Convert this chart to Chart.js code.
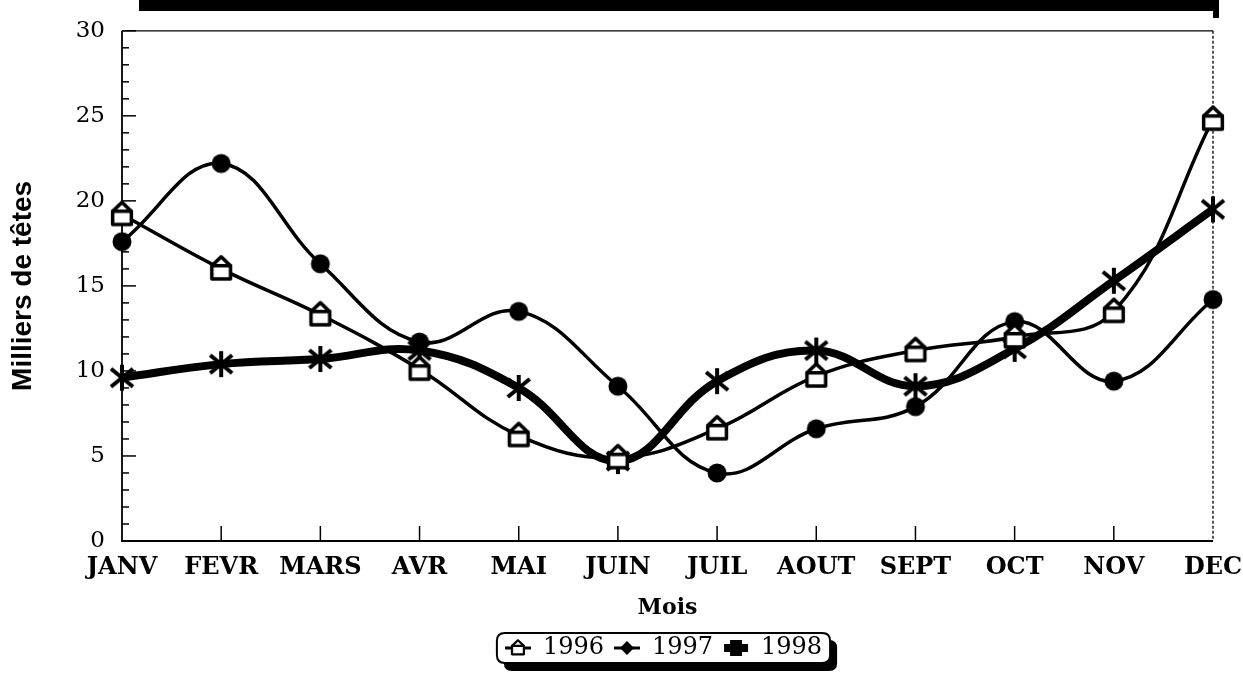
<!DOCTYPE html>
<html>
<head>
<meta charset="utf-8">
<script src="https://cdn.jsdelivr.net/npm/chart.js@4.4.0/dist/chart.umd.min.js"></script>
<style>
  html, body { margin: 0; padding: 0; background: #fff; }
  #wrap { position: relative; width: 1243px; height: 678px; }
  #bar { position: absolute; left: 139px; top: 0; width: 1077px; height: 11px; background: #000; }
  #barEnd { position: absolute; left: 1213px; top: 0; width: 6px; height: 18px; background: #000; }
  canvas { position: absolute; left: 0; top: 0; }
</style>
</head>
<body>
<div id="wrap">
  <canvas id="c" width="1243" height="678"></canvas>
  <div id="bar"></div>
  <div id="barEnd"></div>
</div>
<script>
const months = ['JANV','FEVR','MARS','AVR','MAI','JUIN','JUIL','AOUT','SEPT','OCT','NOV','DEC'];
const seriesNames = ['1996','1997','1998'];
const values1996 = [19.2, 16.0, 13.3, 10.1, 6.2, 4.9, 6.6, 9.7, 11.2, 12.0, 13.5, 24.8];
const values1997 = [17.6, 22.2, 16.3, 11.7, 13.5, 9.1, 4.0, 6.6, 7.9, 12.9, 9.4, 14.2];
const values1998 = [9.6, 10.4, 10.7, 11.2, 9.0, 4.7, 9.4, 11.2, 9.1, 11.3, 15.3, 19.5];
const yTicks = [0, 5, 10, 15, 20, 25, 30];
const yTitle = 'Milliers de têtes';
const xTitle = 'Mois';

function mk(w, h, draw) {
  const c = document.createElement('canvas');
  c.width = w; c.height = h;
  const g = c.getContext('2d');
  g.translate(w / 2, h / 2);
  g.strokeStyle = '#000'; g.fillStyle = '#000';
  g.lineJoin = 'round'; g.lineCap = 'round';
  draw(g);
  return c;
}
function house(g, s) {
  g.beginPath();
  g.moveTo(0, -11 * s); g.lineTo(8.5 * s, -3 * s); g.lineTo(8.5 * s, 9 * s);
  g.lineTo(-8.5 * s, 9 * s); g.lineTo(-8.5 * s, -3 * s); g.closePath();
  g.fillStyle = '#fff'; g.fill();
  g.lineWidth = 3.2 * s; g.stroke();
  g.beginPath(); g.moveTo(-8.5 * s, -3 * s); g.lineTo(8.5 * s, -3 * s); g.stroke();
}
const mk1996 = mk(26, 30, g => house(g, 1.1));
const mk1997 = mk(24, 24, g => { g.beginPath(); g.arc(0, 0, 9.5, 0, Math.PI * 2); g.fill(); });
const mk1998 = mk(30, 30, g => {
  g.lineWidth = 4; g.lineCap = 'butt';
  g.beginPath();
  g.moveTo(0, -13); g.lineTo(0, 13);
  g.moveTo(-11, -9); g.lineTo(11, 9);
  g.moveTo(-11, 9); g.lineTo(11, -9);
  g.stroke();
});
const lg1996 = mk(26, 20, g => {
  g.lineWidth = 3; g.beginPath(); g.moveTo(-13, 0); g.lineTo(13, 0); g.stroke();
  house(g, 0.7);
});
const lg1997 = mk(26, 20, g => {
  g.lineWidth = 3; g.beginPath(); g.moveTo(-13, 0); g.lineTo(13, 0); g.stroke();
  g.beginPath(); g.moveTo(0, -7); g.lineTo(7, 0); g.lineTo(0, 7); g.lineTo(-7, 0); g.closePath(); g.fill();
});
const lg1998 = mk(26, 20, g => {
  g.fillRect(-12, -4, 24, 8);
  g.fillRect(-6, -8, 12, 16);
});
const legendImgs = [lg1996, lg1997, lg1998];

const framePlugin = {
  id: 'frame',
  afterLayout(chart) {
    const lg = chart.legend;
    if (lg) { lg.left += 57; lg.right += 57; }
  },
  beforeDatasetsDraw(chart) {
    const { ctx, chartArea: a, scales } = chart;
    const y = scales.y, x = scales.x;
    ctx.save();
    ctx.strokeStyle = '#000';
    ctx.lineWidth = 1.3;
    ctx.beginPath(); ctx.moveTo(a.left, a.top); ctx.lineTo(a.right, a.top); ctx.stroke();
    ctx.setLineDash([3, 2]);
    ctx.beginPath(); ctx.moveTo(a.right, a.top); ctx.lineTo(a.right, a.bottom); ctx.stroke();
    ctx.setLineDash([]);
    ctx.lineWidth = 1.8;
    ctx.beginPath(); ctx.moveTo(a.left, a.top); ctx.lineTo(a.left, a.bottom); ctx.lineTo(a.right, a.bottom); ctx.stroke();
    ctx.lineWidth = 1.5;
    for (let v = y.min; v <= y.max; v += 1) {
      const py = y.getPixelForValue(v);
      const len = (v % 5 === 0) ? 14 : 7;
      ctx.beginPath(); ctx.moveTo(a.left, py); ctx.lineTo(a.left + len, py); ctx.stroke();
    }
    for (let i = 1; i < months.length - 1; i++) {
      const px = x.getPixelForValue(i);
      ctx.beginPath(); ctx.moveTo(px, a.bottom); ctx.lineTo(px, a.bottom - 15); ctx.stroke();
    }
    ctx.restore();
  }
};

const shadowPlugin = {
  id: 'legendShadow',
  afterDraw(chart) {
    const lg = chart.legend;
    if (!lg || !lg.legendHitBoxes || !lg.legendHitBoxes.length) return;
    const hb = lg.legendHitBoxes;
    const l = hb[0].left - 8, r = hb[hb.length - 1].left + hb[hb.length - 1].width + 8;
    const t = hb[0].top - 3, b = hb[0].top + hb[0].height + 3;
    const ctx = chart.ctx;
    ctx.save();
    function rr(x0, y0, x1, y1, rad) {
      ctx.beginPath();
      ctx.moveTo(x0 + rad, y0); ctx.lineTo(x1 - rad, y0); ctx.quadraticCurveTo(x1, y0, x1, y0 + rad);
      ctx.lineTo(x1, y1 - rad); ctx.quadraticCurveTo(x1, y1, x1 - rad, y1);
      ctx.lineTo(x0 + rad, y1); ctx.quadraticCurveTo(x0, y1, x0, y1 - rad);
      ctx.lineTo(x0, y0 + rad); ctx.quadraticCurveTo(x0, y0, x0 + rad, y0); ctx.closePath();
    }
    ctx.globalCompositeOperation = 'destination-over';
    ctx.fillStyle = '#fff';
    rr(l, t, r, b, 8); ctx.fill();
    ctx.fillStyle = '#000';
    rr(l + 7, t + 7, r + 7, b + 8, 8); ctx.fill();
    ctx.globalCompositeOperation = 'source-over';
    ctx.strokeStyle = '#000'; ctx.lineWidth = 2;
    rr(l, t, r, b, 8); ctx.stroke();
    ctx.restore();
  }
};

const common = { fill: false, tension: 0.4, borderColor: '#000', backgroundColor: '#000', clip: false };

new Chart(document.getElementById('c'), {
  type: 'line',
  data: {
    labels: months,
    datasets: [
      Object.assign({}, common, { label: seriesNames[0], data: values1996, borderWidth: 3.5, pointStyle: mk1996, pointRadius: 10 }),
      Object.assign({}, common, { label: seriesNames[1], data: values1997, borderWidth: 3.5, pointStyle: mk1997, pointRadius: 9 }),
      Object.assign({}, common, { label: seriesNames[2], data: values1998, borderWidth: 8, pointStyle: mk1998, pointRadius: 12 })
    ]
  },
  options: {
    responsive: false,
    animation: false,
    devicePixelRatio: 1,
    layout: { padding: { top: 27, right: 30, left: 0, bottom: 8 } },
    plugins: {
      tooltip: { enabled: false },
      legend: {
        position: 'bottom',
        labels: {
          usePointStyle: true,
          boxWidth: 26, boxHeight: 20, pointStyleWidth: 26,
          padding: 10,
          color: '#000',
          font: { family: 'DejaVu Serif', size: 24 },
          generateLabels(chart) {
            return chart.data.datasets.map((ds, i) => ({
              text: ds.label, pointStyle: legendImgs[i], fillStyle: '#000', strokeStyle: '#000',
              lineWidth: 0, hidden: false, datasetIndex: i, fontColor: '#000'
            }));
          }
        }
      }
    },
    scales: {
      x: {
        offset: false,
        grid: { display: false, drawTicks: false },
        border: { display: false },
        ticks: { color: '#000', padding: 12, font: { family: 'DejaVu Serif', size: 24, weight: 'bold' }, maxRotation: 0, autoSkip: false },
        title: { display: true, text: xTitle, color: '#000', font: { family: 'DejaVu Serif', size: 22, weight: 'bold' }, padding: { top: 0, bottom: 5 } },
        afterFit(s) { s.height = 85; s.paddingRight = 0; s.paddingLeft = 0; }
      },
      y: {
        min: 0, max: 30,
        afterBuildTicks(s) { s.ticks = yTicks.map(v => ({ value: v })); },
        grid: { display: false, drawTicks: false },
        border: { display: false },
        ticks: { color: '#000', padding: 17, font: { family: 'DejaVu Serif', size: 23 } },
        title: { display: true, text: yTitle, color: '#000', font: { family: 'Liberation Sans', size: 28, weight: 'bold' }, padding: { top: 6, bottom: 0 } },
        afterFit(s) { s.width = 122; }
      }
    }
  },
  plugins: [framePlugin, shadowPlugin]
});
</script>
</body>
</html>
